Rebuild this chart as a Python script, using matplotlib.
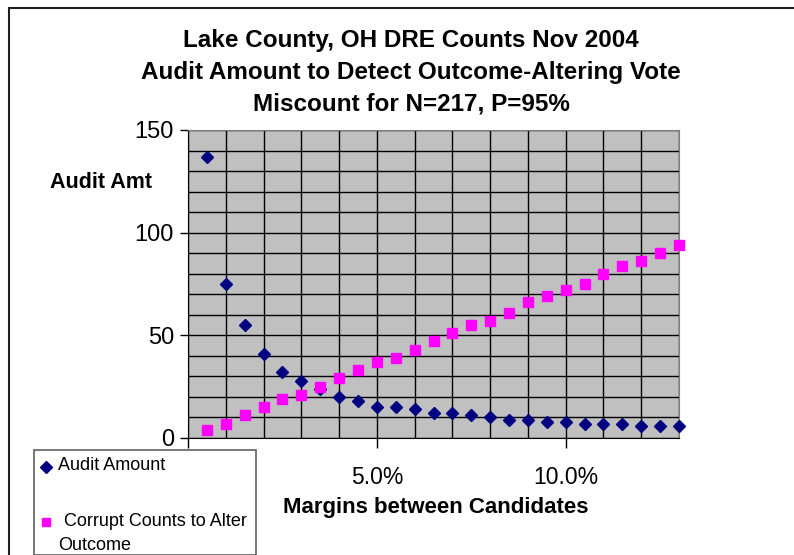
import matplotlib
matplotlib.use("Agg")
import matplotlib.pyplot as plt
from matplotlib.lines import Line2D
from matplotlib.patches import Rectangle
from matplotlib.ticker import MultipleLocator, FixedLocator, FixedFormatter

plt.rcParams['font.family'] = ['Liberation Sans', 'DejaVu Sans']

# margins between candidates (%)
margins = [0.5, 1.0, 1.5, 2.0, 2.5, 3.0, 3.5, 4.0, 4.5, 5.0, 5.5, 6.0, 6.5,
           7.0, 7.5, 8.0, 8.5, 9.0, 9.5, 10.0, 10.5, 11.0, 11.5, 12.0, 12.5, 13.0]
audit_amount = [137, 75, 55, 41, 32, 28, 24, 20, 18, 15, 15, 14, 12,
                12, 11, 10, 9, 9, 8, 8, 7, 7, 7, 6, 6, 6]
corrupt_counts = [4, 7, 11, 15, 19, 21, 25, 29, 33, 37, 39, 43, 47,
                  51, 55, 57, 61, 66, 69, 72, 75, 80, 84, 86, 90, 94]

title_lines = ["Lake County, OH DRE Counts Nov 2004",
               "Audit Amount to Detect Outcome-Altering Vote",
               "Miscount for N=217, P=95%"]
x_ticks = [0, 5, 10]
x_tick_labels = ["", "5.0%", "10.0%"]

W, H = 794, 555
fig = plt.figure(figsize=(W / 100, H / 100), dpi=100)


def fx(px):
    return px / W


def fy(py):
    return 1 - py / H


ax = fig.add_axes([fx(188), fy(438), fx(679) - fx(188), fy(130) - fy(438)])
ax.set_facecolor('#C0C0C0')
ax.set_xlim(0, 13)
ax.set_ylim(0, 150)

ax.xaxis.set_major_locator(FixedLocator(x_ticks))
ax.xaxis.set_major_formatter(FixedFormatter(x_tick_labels))
ax.xaxis.set_minor_locator(MultipleLocator(1))
ax.yaxis.set_major_locator(MultipleLocator(50))
ax.yaxis.set_minor_locator(MultipleLocator(10))
ax.grid(True, which='both', color='black', linewidth=1.0)
ax.set_axisbelow(True)
ax.tick_params(which='minor', length=0)
ax.tick_params(axis='x', which='major', length=7, width=1, pad=13, labelsize=16.5)
ax.tick_params(axis='y', which='major', length=6, width=1, pad=4, labelsize=17)

for side in ['top', 'right']:
    ax.spines[side].set_color('#808080')
ax.spines['left'].set_color('black')
ax.spines['bottom'].set_color('black')

ax.plot(margins, audit_amount, linestyle='none', marker='D', ms=6.5,
        color='#000080', clip_on=False, zorder=3)
ax.plot(margins, corrupt_counts, linestyle='none', marker='s', ms=6.5,
        color='#FF00FF', clip_on=False, zorder=3)

# titles and axis labels
for i, line in enumerate(title_lines):
    fig.text(fx(411), fy(40 + 32 * i), line, ha='center', va='center',
             fontsize=17.5, fontweight='bold')
fig.text(fx(101), fy(182), "Audit Amt", ha='center', va='center',
         fontsize=15.5, fontweight='bold')
fig.text(fx(436), fy(508), "Margins between Candidates", ha='center',
         va='center', fontsize=16, fontweight='bold')

# outer chart frame
fig.add_artist(Line2D([fx(9), 1], [fy(8), fy(8)], color='#202020', lw=1.5))
fig.add_artist(Line2D([fx(9), fx(9)], [fy(8), 0], color='#202020', lw=1.5))

# legend box
fig.add_artist(Rectangle((fx(34), 0), fx(256) - fx(34), fy(450),
                         facecolor='white', edgecolor='#606060', lw=1.2, zorder=5))
fig.add_artist(Line2D([fx(46)], [fy(467)], marker='D', ms=6, color='#000080',
                      linestyle='none', zorder=6))
fig.text(fx(58), fy(466), "Audit Amount", ha='left', va='center',
         fontsize=13, zorder=6)
fig.add_artist(Line2D([fx(46)], [fy(522)], marker='s', ms=6, color='#FF00FF',
                      linestyle='none', zorder=6))
fig.text(fx(64), fy(522), "Corrupt Counts to Alter", ha='left', va='center',
         fontsize=13, zorder=6)
fig.text(fx(58), fy(546), "Outcome", ha='left', va='center',
         fontsize=13, zorder=6)

fig.savefig("out.png", dpi=100)
